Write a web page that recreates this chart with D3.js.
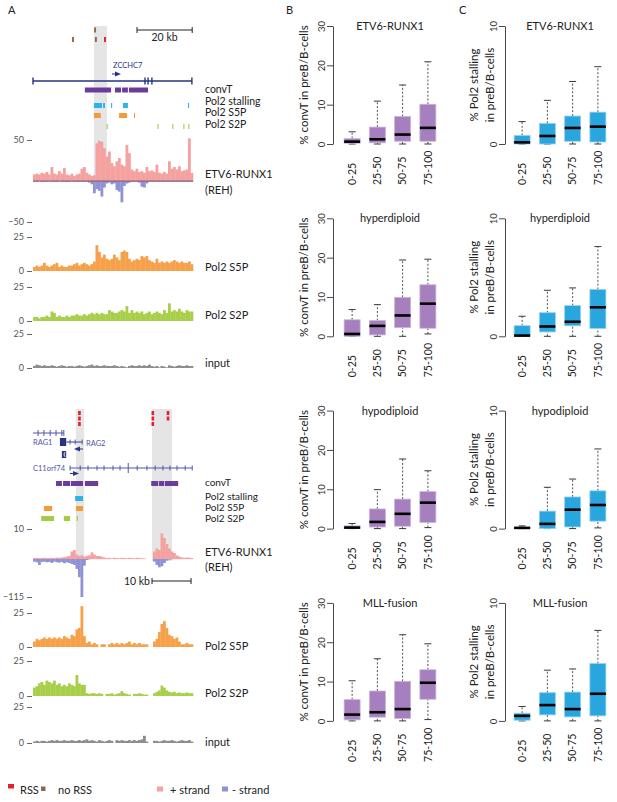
<!DOCTYPE html>
<html>
<head>
<meta charset="utf-8">
<script src="https://cdn.jsdelivr.net/npm/d3@7"></script>
<style>
  body { margin: 0; background: #fff; }
  text { font-family: Lato, "Open Sans", sans-serif; }
</style>
</head>
<body>
<svg id="fig" width="617" height="802"></svg>
<script>
// ---------------- data : panels B / C ----------------
var subtypes = ["ETV6-RUNX1", "hyperdiploid", "hypodiploid", "MLL-fusion"];
var fracBins = ["0-25", "25-50", "50-75", "75-100"];

// [min, q1, median, q3, max] for each fraction bin, one row per subtype
var convtStats = [
  [[0, 0.2, 0.6, 1.4, 3.1], [0, 0.3, 1.2, 4.3, 10.9], [0, 0.7, 2.4, 7.0, 15.0], [0, 0.7, 4.1, 10.1, 20.9]],
  [[0, 0, 0.6, 4.2, 6.8], [0, 0.35, 2.65, 4.0, 8.05], [0, 2.2, 5.3, 9.9, 19.4], [0.6, 2.05, 8.3, 13.1, 19.6]],
  [[0, 0, 0.25, 0.7, 1.3], [0, 0.4, 1.7, 5.0, 9.9], [0, 0.6, 3.76, 7.5, 17.7], [0.25, 1.54, 6.6, 9.4, 14.7]],
  [[0, 0.26, 1.6, 5.4, 10.2], [0, 0.94, 2.2, 7.6, 15.8], [0, 0.6, 3.0, 10.06, 21.9], [0.34, 5.5, 9.7, 13.0, 19.6]]
];
var stallStats = [
  [[0, 0, 0.14, 0.73, 1.9], [0, 0, 0.68, 1.75, 3.7], [0, 0.23, 1.36, 2.37, 5.3], [0, 0.17, 1.47, 2.7, 6.55]],
  [[0, 0, 0.06, 0.9, 1.7], [0, 0.37, 0.83, 2.0, 3.9], [0, 0.89, 1.23, 2.6, 4.1], [0, 0.66, 2.46, 3.97, 7.6]],
  [[0, 0, 0.06, 0.11, 0.23], [0, 0, 0.4, 1.48, 3.5], [0, 0.14, 1.6, 2.68, 4.2], [0.06, 0.63, 2.0, 3.2, 6.75]],
  [[0, 0.06, 0.43, 0.65, 1.22], [0, 0.51, 1.34, 2.39, 4.3], [0, 0.34, 1.0, 2.44, 4.4], [0, 0.43, 2.3, 4.86, 7.67]]
];
var convtTicks = [0, 10, 20, 30];
var stallTicks = [0, 10];

// ---------------- data : panel A, ZCCHC7 locus (kb, 64 bins) ----------------
var topSpan = 58;
var etvTopPlus = [8,9,8,10,9,11,8,17,9,8,12,9,16,8,7,9,6,8,9,15,17,10,8,6,7,46,49,48,40,30,36,22,18,24,28,20,18,44,34,14,12,15,11,12,10,17,12,13,11,20,10,9,11,9,24,15,17,14,18,12,13,14,52,10];
var etvTopMinus = [1,1,0.5,1,1,1,0.5,1,1,1,0.5,1,1,1,1,0.5,1,1,1,1,1,1,2,4,15,10,12,19,8,3,2,4,3,11,13,26,6,3,2,1,1,1,2,7,8,3,1,1,1,1,1,1,1,1,1,1,1,1,1,1,1,1,1,1];
var s5pTop = [3,4,3,4,6,4,3,4,5,6,3,4,3,3,4,4,5,6,4,5,6,5,4,5,7,19,14,10,12,9,8,9,12,10,8,14,15,14,9,7,8,9,8,11,10,11,8,7,6,9,6,7,6,7,6,7,8,7,6,7,6,6,7,5];
var s2pTop = [3,3,2,3,3,4,3,7,6,3,4,3,3,4,3,4,4,5,4,4,5,4,5,6,5,6,5,6,5,5,8,7,6,6,7,8,7,11,6,8,6,7,6,7,5,6,7,5,6,7,6,5,8,6,13,7,8,7,9,7,6,8,7,7];
var inputTop = [1.5,2.5,2,1.5,2,1.5,1.5,2,1.5,1,1.5,2,1.5,1,1.5,1.5,1,1.5,2,1.5,1,1.5,2,2.5,1.5,2,1.5,1.5,2,1.5,1.5,1.5,2,1.5,1,1.5,1,0.5,1.5,2,1.5,1.5,2,1.5,2,1.5,2.5,1.5,1,1.5,0.5,1.5,1,0.5,2,1.5,1,1.5,2,1.5,1.5,2,1.5,1.5];

var topShade = [[22.1, 26.8]];
var topConvT = [[18.8, 28.3], [29.7, 31.9], [32.3, 34.4], [34.8, 41.7]];
var topStall = [[22.1, 25.0], [25.4, 26.1], [28.3, 28.7], [32.6, 34.4], [56.2, 56.6]];
var topS5P = [[22.1, 24.6], [31.2, 34.1], [36.6, 37.0]];
var topS2P = [[26.7, 27.1], [45.1, 45.5], [50.5, 50.9], [54.5, 54.9], [56.3, 56.7]];
var topNoRss1 = [22.5];
var topNoRss2 = [14.5, 22.8];
var topRss2 = [26.1];
var zcchc7 = [0, 57.6];
var zcchc7Exons = [40.6, 41.7, 43.1];

// ---------------- data : panel A, RAG locus (kb, 64 bins, null = no data) ----------------
var botSpan = 41;
var etvBotPlus = [0.3,0.4,0.3,0.3,0.4,0.3,0.3,0.4,0.3,0.5,0.4,0.5,0.6,0.8,1,2.5,3,1.5,1,1.2,0.8,1,1.2,2.2,1.5,1,1,0.8,0.5,0.3,0.4,0.2,0.4,0.3,0.2,0.4,0.3,0.2,0.4,0.3,0.2,0.4,0.3,0.2,0.2,null,null,null,2.5,3.5,3,8.5,7,5,3.5,2.5,2,1.2,0.8,0.5,0.4,0.5,0.4,0.3];
var etvBotMinus = [8,10,18,9,8,10,9,12,8,10,11,9,13,10,12,15,18,30,55,115,20,3,1,0.5,0.3,0.3,0.3,0.3,0.3,0.3,0.3,0.3,0.3,0.3,0.3,0.3,0.3,0.3,0.3,0.3,0.3,0.3,0.3,0.3,0.3,null,null,null,8,18,25,22,12,5,2,1,0.3,0.3,0.3,0.3,0.3,0.3,0.3,0.3];
var s5pBot = [4,6,5,6,7,6,7,6,7,6,7,6,8,7,6,9,8,13,14,30,8,3,4,2,3,2,null,2,2,null,2,3,2,3,2,3,2,3,4,2,3,2,3,2,2,2,null,null,4,6,11,17,19,14,9,8,6,7,4,2,2,3,2,2];
var s2pBot = [6,7,9,10,8,11,10,9,11,8,9,7,8,7,9,8,7,15,9,8,8,2,1.5,2,2,1.5,2,1.5,null,1.5,1.5,2,1,1.5,2,3.5,2,1.5,1,null,1.5,1.5,2,1.5,1,1,null,null,2,3,4,7.5,6,4,3,2.5,3,2,2.5,2,2,2.5,2,2];
var inputBot = [1,1.5,1,1.5,1.5,1,1.5,2,1.5,2,1.5,1.5,2,1.5,1.5,2,1.5,1.5,2,1.5,2,2.5,1.5,2,1.5,1,2,1.5,1,1.5,2,1.5,null,2,1.5,2,1.5,1.5,2,1.5,2,1.5,2,2.5,5,1,null,null,1.5,1.5,1,1.5,2,1.5,1.5,2,1.5,1,1.5,2,1.5,1.5,2,1];

var botShade = [[11.0, 13.1], [30.5, 35.6]];
var botConvT = [[5.9, 7.4], [7.7, 9.5], [9.7, 12.8], [13.3, 16.7], [30.3, 32.1], [32.3, 33.6], [33.8, 37.2]];
var botStall = [[10.8, 12.8]];
var botS5P = [[2.8, 4.9], [11.0, 12.8]];
var botS2P = [[2.1, 5.4], [7.9, 9.5], [11.2, 11.5]];
var botRss = [[11.9, 3], [30.7, 3], [34.6, 2]];   // position, number of stacked marks
var rag1 = [0, 7.9], rag1Ticks = [1.3, 2.8, 4.4, 5.9, 7.4];
var rag2Block = [6.9, 8.5], rag2 = [8.5, 12.6], rag2Ticks = [9.5, 10.8];
var c11orf74 = [9.5, 40.8];
var c11Ticks = [12.1, 14.1, 16.4, 18.2, 20.5, 22.3, 26.7, 29.2, 31.3, 33.3, 35.1, 36.9, 39.0];
var c11Long = 24.4;

// ---------------- colours ----------------
var cPlus = "#f4a19f", cMinus = "#8f93d6", cS5P = "#f6a14a", cS2P = "#a7cf4a", cInput = "#8c8c8c";
var cConvT = "#6c3c99", cStall = "#2bb4e7", cS5Pbar = "#f39a3c", cS2Pbar = "#a3cc45";
var cRss = "#e3202b", cNoRss = "#8a6b48", cGene = "#27347f", cGene2 = "#5256a8", cShade = "#e5e5e5";
var cBoxB = "#a57fbe", cBoxBEdge = "#cbb6db", cBoxC = "#2aa6de", cBoxCEdge = "#93d2ef";

var svg = d3.select("#fig");

// ---------------- helpers ----------------
function spans(g, x, data, y, h, color) {
  g.selectAll(null).data(data).enter().append("rect")
    .attr("x", function(d) { return x(d[0]); })
    .attr("width", function(d) { return Math.max(1, x(d[1]) - x(d[0])); })
    .attr("y", y).attr("height", h)
    .attr("fill", color);
}

function signal(g, x, span, vals, y, color, down) {
  var w = span / vals.length;
  var pts = vals.map(function(v, i) { return {i: i, v: v}; })
                .filter(function(d) { return d.v != null; });
  g.selectAll(null).data(pts).enter().append("rect")
    .attr("x", function(d) { return x(d.i * w); })
    .attr("width", x(w) - x(0) + 0.3)
    .attr("y", function(d) { return down ? y(0) : y(d.v); })
    .attr("height", function(d) { return Math.abs(y(down ? -d.v : d.v) - y(0)); })
    .attr("fill", color);
}

function trackAxis(y, ticks) {
  var ax = svg.append("g").attr("transform", "translate(32,0)")
    .call(d3.axisLeft(y).tickValues(ticks).tickSize(5).tickSizeOuter(0).tickPadding(3));
  ax.select(".domain").remove();
  ax.attr("font-family", "Lato, sans-serif").attr("font-size", 9);
  ax.selectAll("line").attr("stroke", "#666");
  ax.selectAll("text").attr("fill", "#555");
}

function label(x, y, txt, size, color) {
  return svg.append("text").attr("x", x).attr("y", y)
    .attr("font-size", size).attr("fill", color || "#222").text(txt);
}

// ---------------- panel labels ----------------
label(8, 14, "A", 11);
label(286, 14, "B", 11);
label(459, 14, "C", 11);

// ================= panel A : top locus =================
var xTop = d3.scaleLinear().domain([0, topSpan]).range([33, 193]);
var gTop = svg.append("g");

spans(gTop, xTop, topShade, 26, 156, cShade);

// scale bar 20 kb
var sb0 = topSpan - 20.3, sb1 = topSpan - 0.3;
gTop.append("line").attr("x1", xTop(sb0)).attr("x2", xTop(sb1)).attr("y1", 30).attr("y2", 30)
  .attr("stroke", "#222").attr("stroke-width", 1);
[sb0, sb1].forEach(function(v) {
  gTop.append("line").attr("x1", xTop(v)).attr("x2", xTop(v)).attr("y1", 27).attr("y2", 33)
    .attr("stroke", "#222");
});
gTop.append("text").attr("x", xTop((sb0 + sb1) / 2)).attr("y", 41).attr("text-anchor", "middle")
  .attr("font-size", 10.5).attr("fill", "#222").text("20 kb");

// RSS marks
spans(gTop, xTop, topNoRss1.map(function(v) { return [v - 0.35, v + 0.35]; }), 27.5, 5, cNoRss);
spans(gTop, xTop, topNoRss2.map(function(v) { return [v - 0.35, v + 0.35]; }), 37, 5, cNoRss);
spans(gTop, xTop, topRss2.map(function(v) { return [v - 0.35, v + 0.35]; }), 37, 5, cRss);

// ZCCHC7 gene model
gTop.append("text").attr("x", 113).attr("y", 68).attr("font-size", 7.5).attr("fill", cGene).text("ZCCHC7");
gTop.append("path").attr("d", "M112,74H116").attr("stroke", cGene).attr("stroke-width", 1);
gTop.append("path").attr("d", "M115,71.5L121,74L115,76.5Z").attr("fill", cGene);
gTop.append("line").attr("x1", xTop(zcchc7[0])).attr("x2", xTop(zcchc7[1])).attr("y1", 81).attr("y2", 81)
  .attr("stroke", cGene).attr("stroke-width", 1.6);
zcchc7.concat(zcchc7Exons).forEach(function(v) {
  gTop.append("rect").attr("x", xTop(v) - 0.7).attr("width", 1.4).attr("y", 77.5).attr("height", 7).attr("fill", cGene);
});

// feature tracks
spans(gTop, xTop, topConvT, 87.5, 5, cConvT);
spans(gTop, xTop, topStall, 103, 5, cStall);
spans(gTop, xTop, topS5P, 113, 5, cS5Pbar);
spans(gTop, xTop, topS2P, 124, 5, cS2Pbar);

label(205, 93, "convT", 10.5);
label(205, 104.5, "Pol2 stalling", 10.5);
label(205, 116, "Pol2 S5P", 10.5);
label(205, 127.5, "Pol2 S2P", 10.5);

// ETV6-RUNX1 signal
var yEtvTop = d3.scaleLinear().domain([-50, 50]).range([222, 140]);
signal(gTop, xTop, topSpan, etvTopPlus, yEtvTop, cPlus, false);
signal(gTop, xTop, topSpan, etvTopMinus, yEtvTop, cMinus, true);
gTop.append("line").attr("x1", xTop(0)).attr("x2", xTop(topSpan)).attr("y1", yEtvTop(0)).attr("y2", yEtvTop(0))
  .attr("stroke", "#7a4848").attr("stroke-width", 0.8);
trackAxis(yEtvTop, [50, -50]);
label(205, 178, "ETV6-RUNX1", 11);
label(205, 194, "(REH)", 11);

var yS5PTop = d3.scaleLinear().domain([0, 25]).range([271, 237]);
signal(gTop, xTop, topSpan, s5pTop, yS5PTop, cS5P, false);
trackAxis(yS5PTop, [0, 25]);
label(205, 271, "Pol2 S5P", 11);

var yS2PTop = d3.scaleLinear().domain([0, 25]).range([321, 287]);
signal(gTop, xTop, topSpan, s2pTop, yS2PTop, cS2P, false);
trackAxis(yS2PTop, [0, 25]);
label(205, 319, "Pol2 S2P", 11);

var yInTop = d3.scaleLinear().domain([0, 25]).range([368, 334]);
signal(gTop, xTop, topSpan, inputTop, yInTop, cInput, false);
trackAxis(yInTop, [0, 25]);
label(205, 367, "input", 11);

// ================= panel A : RAG locus =================
var xBot = d3.scaleLinear().domain([0, botSpan]).range([33, 193]);
var gBot = svg.append("g");

spans(gBot, xBot, botShade, 409, 152, cShade);

botRss.forEach(function(d) {
  d3.range(d[1]).forEach(function(k) {
    gBot.append("rect").attr("x", xBot(d[0]) - 1.3).attr("width", 2.6)
      .attr("y", 411 + k * 5.5).attr("height", 4).attr("fill", cRss);
  });
});

// RAG1
gBot.append("line").attr("x1", xBot(rag1[0])).attr("x2", xBot(rag1[1])).attr("y1", 433).attr("y2", 433)
  .attr("stroke", cGene2).attr("stroke-width", 1);
rag1Ticks.concat([rag1[1]]).forEach(function(v) {
  gBot.append("line").attr("x1", xBot(v)).attr("x2", xBot(v)).attr("y1", 430).attr("y2", 436)
    .attr("stroke", cGene2).attr("stroke-width", 1);
});
gBot.append("text").attr("x", 33).attr("y", 445).attr("font-size", 7.5).attr("fill", cGene2).text("RAG1");

// RAG2
gBot.append("rect").attr("x", xBot(rag2Block[0])).attr("width", xBot(rag2Block[1]) - xBot(rag2Block[0]))
  .attr("y", 438).attr("height", 8).attr("fill", cGene);
gBot.append("line").attr("x1", xBot(rag2[0])).attr("x2", xBot(rag2[1])).attr("y1", 442).attr("y2", 442)
  .attr("stroke", cGene2).attr("stroke-width", 1.2);
rag2Ticks.concat([rag2[1]]).forEach(function(v) {
  gBot.append("line").attr("x1", xBot(v)).attr("x2", xBot(v)).attr("y1", 439.5).attr("y2", 444.5)
    .attr("stroke", cGene2);
});
gBot.append("text").attr("x", 86).attr("y", 446).attr("font-size", 7.5).attr("fill", cGene2).text("RAG2");
gBot.append("path").attr("d", "M78,449H83").attr("stroke", cGene).attr("stroke-width", 1);
gBot.append("path").attr("d", "M80,446.6L74,449L80,451.4Z").attr("fill", cGene);
gBot.append("rect").attr("x", xBot(7.4)).attr("width", xBot(8.5) - xBot(7.4)).attr("y", 451).attr("height", 7).attr("fill", cGene);
gBot.append("path").attr("d", "M65.5,452.8H64.2V456.2H65.5").attr("stroke", "#fff").attr("fill", "none").attr("stroke-width", 0.8);

// C11orf74
gBot.append("text").attr("x", 33).attr("y", 471).attr("font-size", 7.5).attr("fill", cGene2).text("C11orf74");
gBot.append("line").attr("x1", xBot(c11orf74[0])).attr("x2", xBot(c11orf74[1])).attr("y1", 468).attr("y2", 468)
  .attr("stroke", cGene2).attr("stroke-width", 1.2);
c11Ticks.concat(c11orf74).forEach(function(v) {
  gBot.append("line").attr("x1", xBot(v)).attr("x2", xBot(v)).attr("y1", 465.5).attr("y2", 470.5)
    .attr("stroke", cGene2);
});
gBot.append("line").attr("x1", xBot(c11Long)).attr("x2", xBot(c11Long)).attr("y1", 463).attr("y2", 473)
  .attr("stroke", cGene2);
gBot.append("path").attr("d", "M70,473.5H74").attr("stroke", cGene).attr("stroke-width", 1);
gBot.append("path").attr("d", "M73,471.1L79,473.5L73,475.9Z").attr("fill", cGene);

spans(gBot, xBot, botConvT, 481, 5, cConvT);
spans(gBot, xBot, botStall, 496, 5, cStall);
spans(gBot, xBot, botS5P, 506, 5, cS5Pbar);
spans(gBot, xBot, botS2P, 516, 5, cS2Pbar);

label(205, 485.5, "convT", 10);
label(205, 499.5, "Pol2 stalling", 10);
label(205, 510.5, "Pol2 S5P", 10);
label(205, 521.5, "Pol2 S2P", 10);

var yEtvBot = d3.scaleLinear().domain([-115, 0, 10]).range([597, 559, 529]);
signal(gBot, xBot, botSpan, etvBotMinus, yEtvBot, cMinus, true);
signal(gBot, xBot, botSpan, etvBotPlus, yEtvBot, cPlus, false);
trackAxis(yEtvBot, [10, -115]);
label(205, 556, "ETV6-RUNX1", 11);
label(205, 571, "(REH)", 11);

// scale bar 10 kb
var sc0 = botSpan - 10.5, sc1 = botSpan - 0.5;
gBot.append("line").attr("x1", xBot(sc0)).attr("x2", xBot(sc1)).attr("y1", 581).attr("y2", 581).attr("stroke", "#222");
[sc0, sc1].forEach(function(v) {
  gBot.append("line").attr("x1", xBot(v)).attr("x2", xBot(v)).attr("y1", 578).attr("y2", 584).attr("stroke", "#222");
});
gBot.append("text").attr("x", xBot(sc0) - 2).attr("y", 585).attr("text-anchor", "end")
  .attr("font-size", 10.5).attr("fill", "#222").text("10 kb");

var yS5PBot = d3.scaleLinear().domain([0, 25]).range([647, 613]);
signal(gBot, xBot, botSpan, s5pBot, yS5PBot, cS5P, false);
trackAxis(yS5PBot, [0, 25]);
label(205, 650, "Pol2 S5P", 11);

var yS2PBot = d3.scaleLinear().domain([0, 25]).range([696, 661]);
signal(gBot, xBot, botSpan, s2pBot, yS2PBot, cS2P, false);
trackAxis(yS2PBot, [0, 25]);
label(205, 697, "Pol2 S2P", 11);

var yInBot = d3.scaleLinear().domain([0, 25]).range([743, 707]);
signal(gBot, xBot, botSpan, inputBot, yInBot, cInput, false);
trackAxis(yInBot, [0, 25]);
label(205, 746, "input", 11);

// legend
var legend = [
  {x: 8, w: 6, h: 4.5, dy: 0, tx: 20, c: cRss, t: "RSS"},
  {x: 41, w: 4.5, h: 4.5, dy: 2.5, tx: 58, c: cNoRss, t: "no RSS"},
  {x: 157, w: 6, h: 5, dy: 2.5, tx: 170, c: cPlus, t: "+ strand"},
  {x: 222, w: 6, h: 5, dy: 2.5, tx: 232, c: cMinus, t: "- strand"}
];
legend.forEach(function(d) {
  svg.append("rect").attr("x", d.x).attr("y", 784 + d.dy).attr("width", d.w).attr("height", d.h).attr("fill", d.c);
  label(d.tx, 794, d.t, 11);
});

// ================= panels B and C : box plots =================
var xB = d3.scalePoint().domain(fracBins).range([339.5, 440.5]).padding(0.5);
var xC = d3.scalePoint().domain(fracBins).range([509.5, 610.5]).padding(0.5);

function boxes(g, x, y, stats, fill, edge) {
  var bw = 16, cw = 7;
  var b = g.selectAll(null).data(stats).enter().append("g")
    .attr("transform", function(d, i) { return "translate(" + x(fracBins[i]) + ",0)"; });
  b.append("line").attr("y1", function(d) { return y(d[3]); }).attr("y2", function(d) { return y(d[4]); })
    .attr("stroke", "#222").attr("stroke-width", 0.8).attr("stroke-dasharray", "2,1.8");
  b.append("line").attr("y1", function(d) { return y(d[0]); }).attr("y2", function(d) { return y(d[1]); })
    .attr("stroke", "#222").attr("stroke-width", 0.8).attr("stroke-dasharray", "2,1.8");
  b.append("line").attr("x1", -cw / 2).attr("x2", cw / 2)
    .attr("y1", function(d) { return y(d[4]); }).attr("y2", function(d) { return y(d[4]); })
    .attr("stroke", "#222").attr("stroke-width", 0.9);
  b.append("line").attr("x1", -cw / 2).attr("x2", cw / 2)
    .attr("y1", function(d) { return y(d[0]); }).attr("y2", function(d) { return y(d[0]); })
    .attr("stroke", "#222").attr("stroke-width", 0.9);
  b.append("rect").attr("x", -bw / 2).attr("width", bw)
    .attr("y", function(d) { return y(d[3]); })
    .attr("height", function(d) { return Math.max(0.5, y(d[1]) - y(d[3])); })
    .attr("fill", fill).attr("stroke", edge).attr("stroke-width", 0.8);
  b.append("line").attr("x1", -bw / 2).attr("x2", bw / 2)
    .attr("y1", function(d) { return y(d[2]); }).attr("y2", function(d) { return y(d[2]); })
    .attr("stroke", "#000").attr("stroke-width", 2.6);
}

function boxAxis(xPos, y, ticks) {
  var ax = svg.append("g").attr("transform", "translate(" + xPos + ",0)")
    .call(d3.axisLeft(y).tickValues(ticks).tickSize(6).tickSizeOuter(0));
  ax.attr("font-family", "Lato, sans-serif").attr("font-size", 9.5);
  ax.selectAll("path, line").attr("stroke", "#333").attr("stroke-width", 0.9);
  ax.selectAll(".tick text").attr("x", 0).attr("y", -8.5).attr("dy", 0)
    .attr("text-anchor", "middle").attr("transform", "rotate(-90)").attr("fill", "#333");
}

function catLabels(x, bot) {
  svg.append("g").selectAll(null).data(fracBins).enter().append("text")
    .attr("transform", function(d) { return "translate(" + (x(d) + 3.8) + "," + (bot + 41) + ") rotate(-90)"; })
    .attr("font-size", 10.5).attr("fill", "#222").text(function(d) { return d; });
}

subtypes.forEach(function(name, r) {
  var top = 26 + r * 192.3, bot = 144 + r * 192.3, mid = (top + bot) / 2;
  var yB = d3.scaleLinear().domain([0, 30]).range([bot, top]);
  var yC = d3.scaleLinear().domain([0, 10]).range([bot, top]);

  boxes(svg.append("g"), xB, yB, convtStats[r], cBoxB, cBoxBEdge);
  boxes(svg.append("g"), xC, yC, stallStats[r], cBoxC, cBoxCEdge);
  boxAxis(333, yB, convtTicks);
  boxAxis(505, yC, stallTicks);
  catLabels(xB, bot);
  catLabels(xC, bot);

  svg.append("text").attr("x", 390).attr("y", top + 4).attr("text-anchor", "middle")
    .attr("font-size", 11).attr("fill", "#222").text(name);
  svg.append("text").attr("x", 560).attr("y", top + 4).attr("text-anchor", "middle")
    .attr("font-size", 11).attr("fill", "#222").text(name);

  svg.append("text").attr("transform", "translate(308," + mid + ") rotate(-90)")
    .attr("text-anchor", "middle").attr("font-size", 11.5).attr("fill", "#222").text("% convT in preB/B-cells");
  svg.append("text").attr("transform", "translate(478," + mid + ") rotate(-90)")
    .attr("text-anchor", "middle").attr("font-size", 11.5).attr("fill", "#222").text("% Pol2 stalling");
  svg.append("text").attr("transform", "translate(494," + mid + ") rotate(-90)")
    .attr("text-anchor", "middle").attr("font-size", 11.5).attr("fill", "#222").text("in preB/B-cells");
});
</script>
</body>
</html>
